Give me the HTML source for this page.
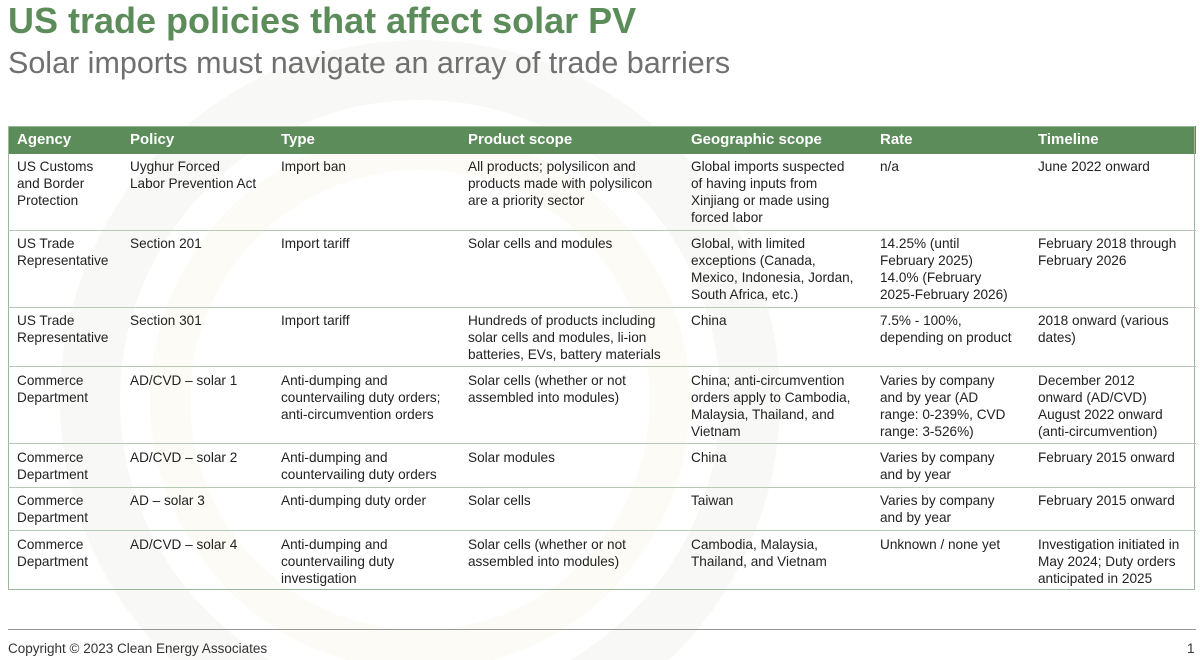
<!DOCTYPE html>
<html><head><style>
html,body{margin:0;width:1200px;height:660px;overflow:hidden}
body{background:#fff;font-family:"Liberation Sans",sans-serif;position:relative}
.t{position:absolute;left:8px;top:0px;font-size:36px;font-weight:bold;color:#5b8c5a;white-space:nowrap}
.s{position:absolute;left:8px;top:46px;font-size:30.5px;color:#707070;white-space:nowrap}
.hd{position:absolute;left:8px;top:126px;width:1188px;height:28px;background:#5b8c5a}
.c{position:absolute;font-size:13.6px;line-height:17px;color:#222;white-space:nowrap}
.h{position:absolute;font-size:15px;font-weight:bold;color:#fff;top:131px}
.ln{position:absolute;left:8px;width:1188px;height:1px;background:#b5c9b4}
.bx{position:absolute;left:8px;top:126px;width:1187px;height:464px;border:1px solid #9ab89a;box-sizing:border-box}
.f{position:absolute;top:641px;font-size:13.5px;color:#333}
</style></head><body>
<svg style="position:absolute;left:0;top:0" width="1200" height="660"><circle cx="420" cy="400" r="330" fill="none" stroke="#f8f9f7" stroke-width="60"/><circle cx="420" cy="400" r="250" fill="none" stroke="#fdfbf5" stroke-width="40"/></svg>
<div class="t">US trade policies that affect solar PV</div>
<div class="s">Solar imports must navigate an array of trade barriers</div>
<div class="hd"></div>
<div class="bx"></div>
<div class="h" style="left:17px">Agency</div>
<div class="h" style="left:130px">Policy</div>
<div class="h" style="left:281px">Type</div>
<div class="h" style="left:468px">Product scope</div>
<div class="h" style="left:691px">Geographic scope</div>
<div class="h" style="left:880px">Rate</div>
<div class="h" style="left:1038px">Timeline</div>
<div class="ln" style="top:230px"></div><div class="ln" style="top:307px"></div><div class="ln" style="top:366px"></div><div class="ln" style="top:443px"></div><div class="ln" style="top:487px"></div><div class="ln" style="top:530px"></div>

<div class="c" style="left:17px;top:158px">US Customs<br>and Border<br>Protection</div>
<div class="c" style="left:130px;top:158px">Uyghur Forced<br>Labor Prevention Act</div>
<div class="c" style="left:281px;top:158px">Import ban</div>
<div class="c" style="left:468px;top:158px">All products; polysilicon and<br>products made with polysilicon<br>are a priority sector</div>
<div class="c" style="left:691px;top:158px">Global imports suspected<br>of having inputs from<br>Xinjiang or made using<br>forced labor</div>
<div class="c" style="left:880px;top:158px">n/a</div>
<div class="c" style="left:1038px;top:158px">June 2022 onward</div>

<div class="c" style="left:17px;top:235px">US Trade<br>Representative</div>
<div class="c" style="left:130px;top:235px">Section 201</div>
<div class="c" style="left:281px;top:235px">Import tariff</div>
<div class="c" style="left:468px;top:235px">Solar cells and modules</div>
<div class="c" style="left:691px;top:235px">Global, with limited<br>exceptions (Canada,<br>Mexico, Indonesia, Jordan,<br>South Africa, etc.)</div>
<div class="c" style="left:880px;top:235px">14.25% (until<br>February 2025)<br>14.0% (February<br>2025-February 2026)</div>
<div class="c" style="left:1038px;top:235px">February 2018 through<br>February 2026</div>

<div class="c" style="left:17px;top:312px">US Trade<br>Representative</div>
<div class="c" style="left:130px;top:312px">Section 301</div>
<div class="c" style="left:281px;top:312px">Import tariff</div>
<div class="c" style="left:468px;top:312px">Hundreds of products including<br>solar cells and modules, li-ion<br>batteries, EVs, battery materials</div>
<div class="c" style="left:691px;top:312px">China</div>
<div class="c" style="left:880px;top:312px">7.5% - 100%,<br>depending on product</div>
<div class="c" style="left:1038px;top:312px">2018 onward (various<br>dates)</div>

<div class="c" style="left:17px;top:372px">Commerce<br>Department</div>
<div class="c" style="left:130px;top:372px">AD/CVD – solar 1</div>
<div class="c" style="left:281px;top:372px">Anti-dumping and<br>countervailing duty orders;<br>anti-circumvention orders</div>
<div class="c" style="left:468px;top:372px">Solar cells (whether or not<br>assembled into modules)</div>
<div class="c" style="left:691px;top:372px">China; anti-circumvention<br>orders apply to Cambodia,<br>Malaysia, Thailand, and<br>Vietnam</div>
<div class="c" style="left:880px;top:372px">Varies by company<br>and by year (AD<br>range: 0-239%, CVD<br>range: 3-526%)</div>
<div class="c" style="left:1038px;top:372px">December 2012<br>onward (AD/CVD)<br>August 2022 onward<br>(anti-circumvention)</div>

<div class="c" style="left:17px;top:449px">Commerce<br>Department</div>
<div class="c" style="left:130px;top:449px">AD/CVD – solar 2</div>
<div class="c" style="left:281px;top:449px">Anti-dumping and<br>countervailing duty orders</div>
<div class="c" style="left:468px;top:449px">Solar modules</div>
<div class="c" style="left:691px;top:449px">China</div>
<div class="c" style="left:880px;top:449px">Varies by company<br>and by year</div>
<div class="c" style="left:1038px;top:449px">February 2015 onward</div>

<div class="c" style="left:17px;top:492px">Commerce<br>Department</div>
<div class="c" style="left:130px;top:492px">AD – solar 3</div>
<div class="c" style="left:281px;top:492px">Anti-dumping duty order</div>
<div class="c" style="left:468px;top:492px">Solar cells</div>
<div class="c" style="left:691px;top:492px">Taiwan</div>
<div class="c" style="left:880px;top:492px">Varies by company<br>and by year</div>
<div class="c" style="left:1038px;top:492px">February 2015 onward</div>

<div class="c" style="left:17px;top:536px">Commerce<br>Department</div>
<div class="c" style="left:130px;top:536px">AD/CVD – solar 4</div>
<div class="c" style="left:281px;top:536px">Anti-dumping and<br>countervailing duty<br>investigation</div>
<div class="c" style="left:468px;top:536px">Solar cells (whether or not<br>assembled into modules)</div>
<div class="c" style="left:691px;top:536px">Cambodia, Malaysia,<br>Thailand, and Vietnam</div>
<div class="c" style="left:880px;top:536px">Unknown / none yet</div>
<div class="c" style="left:1038px;top:536px">Investigation initiated in<br>May 2024; Duty orders<br>anticipated in 2025</div>

<div style="position:absolute;left:8px;top:629px;width:1188px;height:1px;background:#999"></div>
<div class="f" style="left:8px">Copyright © 2023 Clean Energy Associates</div>
<div class="f" style="left:1187px">1</div>
</body></html>
